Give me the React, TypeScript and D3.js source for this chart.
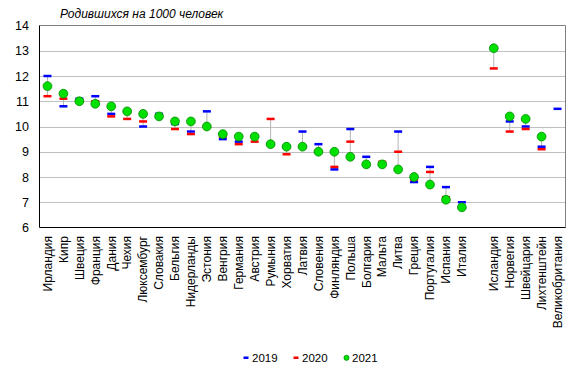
import React from 'react';
import * as d3 from 'd3';

const countries = ['Ирландия','Кипр','Швеция','Франция','Дания','Чехия','Люксембург','Словакия','Бельгия','Нидерланды','Эстония','Венгрия','Германия','Австрия','Румыния','Хорватия','Латвия','Словения','Финляндия','Польша','Болгария','Мальта','Литва','Греция','Португалия','Испания','Италия','','Исландия','Норвегия','Швейцария','Лихтенштейн','Великобритания'];
const v2019: (number | null)[] = [12.0,10.8,11.1,11.2,10.5,10.6,10.0,10.5,10.1,9.8,10.6,9.5,9.4,9.6,9.3,9.2,9.8,9.3,8.3,9.9,8.8,8.5,9.8,7.8,8.4,7.6,7.0,null,null,10.2,10.0,9.2,10.7];
const v2020: (number | null)[] = [11.2,11.1,11.0,11.0,10.4,10.3,10.2,10.4,9.9,9.7,10.0,9.6,9.3,9.4,10.3,8.9,9.2,9.0,8.4,9.4,8.5,8.6,9.0,7.9,8.2,7.2,6.8,null,12.3,9.8,9.9,9.1,null];
const v2021: (number | null)[] = [11.6,11.3,11.0,10.9,10.8,10.6,10.5,10.4,10.2,10.2,10.0,9.7,9.6,9.6,9.3,9.2,9.2,9.0,9.0,8.8,8.5,8.5,8.3,8.0,7.7,7.1,6.8,null,13.1,10.4,10.3,9.6,null];
const yTicks = [6,7,8,9,10,11,12,13,14];
const title = 'Родившихся на 1000 человек';
const legendItems = ['2019','2020','2021'];

const FONT = "Arial, 'Liberation Sans', sans-serif";
const BLUE = '#0000ff';
const RED = '#ff0000';
const GREEN = '#00e000';
const GREEN_STROKE = '#008a00';

export default function App() {
  const W = 580, H = 375;
  const L = 39.5, R = 565.5, T = 25.5, B = 227.5;
  const x = d3.scaleBand<number>().domain(d3.range(countries.length)).range([L, R]).padding(0);
  const y = d3.scaleLinear().domain([6, 14]).range([B, T]);
  const cx = (i: number) => (x(i) as number) + x.bandwidth() / 2;
  const dashW = 8, dashH = 2.5;

  return (
    <svg width={W} height={H} style={{ position: 'absolute', left: 0, top: 0, background: '#fff' }} fontFamily={FONT}>
      <rect x={0} y={0} width={W} height={H} fill="#fff" />
      <text x={60} y={18} fontSize={12} fontStyle="italic" fill="#000">{title}</text>
      {yTicks.filter(t => t > 6 && t < 14).map(t => (
        <line key={'g' + t} x1={L} x2={R} y1={Math.round(y(t)) + 0.5} y2={Math.round(y(t)) + 0.5} stroke="#c0c0c0" strokeWidth={1} />
      ))}
      <line x1={L} x2={R} y1={T} y2={T} stroke="#808080" />
      <line x1={R} x2={R} y1={T} y2={B} stroke="#808080" />
      <line x1={L} x2={L} y1={T} y2={B} stroke="#000" />
      <line x1={L} x2={R} y1={B} y2={B} stroke="#000" />
      {yTicks.map(t => (
        <text key={'t' + t} x={29} y={y(t)} dy="0.36em" textAnchor="end" fontSize={12.5} fill="#000">{t}</text>
      ))}
      {countries.map((c, i) => c ? (
        <text key={'x' + i} transform={`translate(${cx(i) + 4.3},236) rotate(-90)`} textAnchor="end" fontSize={12} fill="#000">{c}</text>
      ) : null)}
      {countries.map((c, i) => {
        const vals = [v2019[i], v2020[i], v2021[i]].filter(v => v != null) as number[];
        if (vals.length < 2) return null;
        return <line key={'r' + i} x1={cx(i)} x2={cx(i)} y1={y(d3.min(vals)!)} y2={y(d3.max(vals)!)} stroke="#b4b4b4" strokeWidth={1} />;
      })}
      {v2019.map((v, i) => v == null ? null : (
        <rect key={'b' + i} x={cx(i) - dashW / 2} y={y(v) - dashH / 2} width={dashW} height={dashH} fill={BLUE} />
      ))}
      {v2020.map((v, i) => v == null ? null : (
        <rect key={'d' + i} x={cx(i) - dashW / 2} y={y(v) - dashH / 2} width={dashW} height={dashH} fill={RED} />
      ))}
      {v2021.map((v, i) => v == null ? null : (
        <circle key={'c' + i} cx={cx(i)} cy={y(v)} r={4.4} fill={GREEN} stroke={GREEN_STROKE} strokeWidth={0.8} />
      ))}
      <g fontSize={11.5} fill="#000">
        <rect x={243.5} y={356.5} width={5} height={2.5} fill={BLUE} />
        <text x={252} y={358} dy="0.36em">{legendItems[0]}</text>
        <rect x={293.5} y={356.5} width={5} height={2.5} fill={RED} />
        <text x={302} y={358} dy="0.36em">{legendItems[1]}</text>
        <circle cx={346.5} cy={357.8} r={2.6} fill={GREEN} stroke={GREEN_STROKE} strokeWidth={0.7} />
        <text x={352} y={358} dy="0.36em">{legendItems[2]}</text>
      </g>
    </svg>
  );
}
